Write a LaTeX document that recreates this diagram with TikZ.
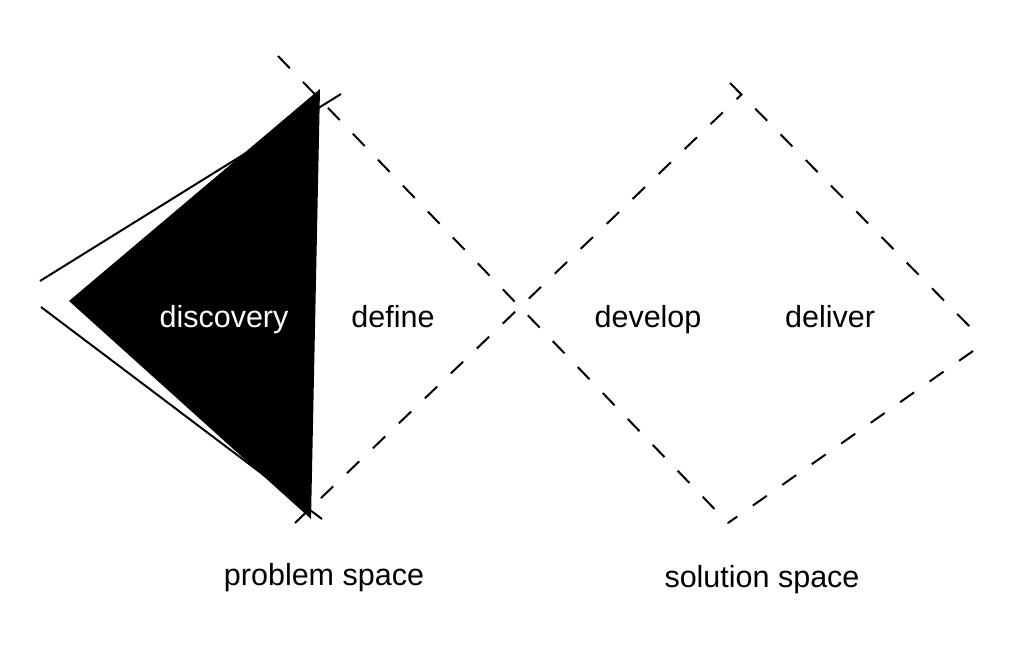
\documentclass[tikz,border=0pt]{standalone}
\usepackage{fontspec}
\setmainfont{Liberation Sans}
\begin{document}
\begin{tikzpicture}[x=1pt,y=-1pt,
  dashline/.style={line width=2pt,dash pattern=on 17pt off 19pt},
  solidline/.style={line width=2pt},
  lbl/.style={font=\fontsize{30.5}{36}\selectfont,anchor=base,inner sep=0pt}]
\useasboundingbox (0,0) rectangle (1024,662);
% coordinates
\coordinate (a1) at (278,56);
\coordinate (a2) at (728,523);
\coordinate (b1) at (295,523);
\coordinate (b2) at (742,94);
\coordinate (c1) at (730,83);
\coordinate (c2) at (974,331);
\coordinate (d1) at (973,351);
\coordinate (d2) at (728,523);
\coordinate (t1) at (320,89);
\coordinate (t2) at (69,301);
\coordinate (t3) at (311,519);
\coordinate (e1) at (40,281);
\coordinate (e2) at (341,94);
\coordinate (f1) at (41,307);
\coordinate (f2) at (322,519);
% solid outline lines
\draw[solidline] (e1) -- (e2);
\draw[solidline] (f1) -- (f2);
% black triangle
\fill[black] (t1) -- (t2) -- (t3) -- cycle;
% dashed diamonds
\draw[dashline] (a1) -- (a2);
\draw[dashline] (b1) -- (b2);
\draw[dashline] (c1) -- (c2);
\draw[dashline] (d1) -- (d2);
% labels
\node[lbl,text=white] (discovery) at (224,327) {discovery};
\node[lbl] (define) at (393,327) {define};
\node[lbl] (develop) at (648,327) {develop};
\node[lbl] (deliver) at (830,327) {deliver};
\node[lbl] (problem) at (324,585) {problem space};
\node[lbl] (solution) at (762,587) {solution space};
\end{tikzpicture}
\end{document}
